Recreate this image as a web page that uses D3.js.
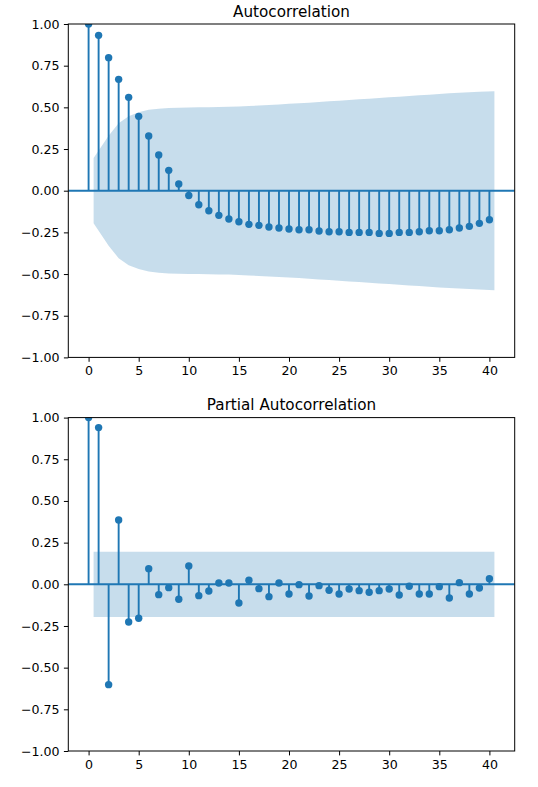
<!DOCTYPE html>
<html>
<head>
<meta charset="utf-8">
<script src="https://cdn.jsdelivr.net/npm/d3@7/dist/d3.min.js"></script>
<style>
  html, body { margin: 0; padding: 0; background: #fff; }
  svg { display: block; }
  text { font-family: "DejaVu Sans", sans-serif; fill: #000; }
</style>
</head>
<body>
<svg id="chart" width="538" height="787"></svg>
<script>
// ---- data ----
const lags = [0,1,2,3,4,5,6,7,8,9,10,11,12,13,14,15,16,17,18,19,20,
              21,22,23,24,25,26,27,28,29,30,31,32,33,34,35,36,37,38,39,40];

const acfValues = [1.000, 0.932, 0.798, 0.668, 0.560, 0.446, 0.328, 0.214, 0.122, 0.040,
                   -0.029, -0.084, -0.120, -0.148, -0.170, -0.186, -0.202, -0.208, -0.218, -0.224,
                   -0.230, -0.234, -0.234, -0.242, -0.246, -0.246, -0.250, -0.250, -0.250, -0.256,
                   -0.256, -0.250, -0.250, -0.246, -0.240, -0.240, -0.234, -0.224, -0.214, -0.196,
                   -0.174];

// half-width of the confidence band for lags 1..40
const acfBand = [0.196, 0.330, 0.405, 0.447, 0.470, 0.485, 0.492, 0.496, 0.498, 0.499,
                 0.500, 0.501, 0.502, 0.503, 0.505, 0.508, 0.511, 0.514, 0.517, 0.521,
                 0.524, 0.528, 0.532, 0.536, 0.540, 0.544, 0.548, 0.552, 0.556, 0.560,
                 0.564, 0.568, 0.572, 0.576, 0.580, 0.584, 0.587, 0.590, 0.593, 0.597];

const pacfValues = [1.000, 0.940, -0.602, 0.386, -0.226, -0.204, 0.094, -0.062, -0.020, -0.090,
                    0.110, -0.068, -0.040, 0.008, 0.008, -0.112, 0.024, -0.026, -0.074, 0.008,
                    -0.058, -0.002, -0.070, -0.008, -0.036, -0.058, -0.028, -0.038, -0.048, -0.038,
                    -0.028, -0.064, -0.012, -0.058, -0.058, -0.014, -0.082, 0.010, -0.058, -0.022,
                    0.034];

const pacfBand = [0.196, 0.196, 0.196, 0.196, 0.196, 0.196, 0.196, 0.196, 0.196, 0.196,
                  0.196, 0.196, 0.196, 0.196, 0.196, 0.196, 0.196, 0.196, 0.196, 0.196,
                  0.196, 0.196, 0.196, 0.196, 0.196, 0.196, 0.196, 0.196, 0.196, 0.196,
                  0.196, 0.196, 0.196, 0.196, 0.196, 0.196, 0.196, 0.196, 0.196, 0.196];

const xTicks = [0, 5, 10, 15, 20, 25, 30, 35, 40];
const yTicks = [-1.00, -0.75, -0.50, -0.25, 0.00, 0.25, 0.50, 0.75, 1.00];
const titles = ["Autocorrelation", "Partial Autocorrelation"];

// ---- layout ----
const blue = "#1f77b4";
const svg = d3.select("#chart");
const left = 68.3, right = 514.7;
const panels = [
  { top: 24.0, bottom: 357.4, values: acfValues, band: acfBand, title: titles[0] },
  { top: 417.6, bottom: 751.0, values: pacfValues, band: pacfBand, title: titles[1] }
];

const fmt = v => (v < 0 ? "\u2212" : "") + Math.abs(v).toFixed(2);

panels.forEach(p => {
  const x = d3.scaleLinear().domain([-2.025, 42.525]).range([left, right]);
  const y = d3.scaleLinear().domain([-1, 1]).range([p.bottom, p.top]);
  const g = svg.append("g");

  const clipId = "clip" + Math.round(p.top);
  g.append("clipPath").attr("id", clipId)
    .append("rect").attr("x", left).attr("y", p.top)
    .attr("width", right - left).attr("height", p.bottom - p.top);
  const plot = g.append("g").attr("clip-path", `url(#${clipId})`);

  // stems
  plot.selectAll("line.stem").data(lags).join("line")
    .attr("class", "stem")
    .attr("x1", d => x(d)).attr("x2", d => x(d))
    .attr("y1", y(0)).attr("y2", d => y(p.values[d]))
    .attr("stroke", blue).attr("stroke-width", 1.9);

  // zero line
  plot.append("line")
    .attr("x1", left).attr("x2", right)
    .attr("y1", y(0)).attr("y2", y(0))
    .attr("stroke", blue).attr("stroke-width", 1.9);

  // markers
  plot.selectAll("circle").data(lags).join("circle")
    .attr("cx", d => x(d)).attr("cy", d => y(p.values[d]))
    .attr("r", 3.7).attr("fill", blue);

  // confidence band (lags 1..40, ends pushed out by half a lag)
  const bandLags = lags.slice(1);
  const bx = (d, i) => {
    let v = d;
    if (i === 0) v -= 0.5;
    if (i === bandLags.length - 1) v += 0.5;
    return x(v);
  };
  const area = d3.area()
    .x((d, i) => bx(d, i))
    .y0((d, i) => y(-p.band[i]))
    .y1((d, i) => y(p.band[i]));
  plot.append("path").datum(bandLags)
    .attr("d", area)
    .attr("fill", blue).attr("fill-opacity", 0.25);

  // axes
  const yAxis = d3.axisLeft(y).tickValues(yTicks).tickFormat(fmt).tickSize(4.4).tickPadding(4.4);
  const xAxis = d3.axisBottom(x).tickValues(xTicks).tickFormat(d3.format("d")).tickSize(4.4).tickPadding(4.4);
  const ya = g.append("g").attr("transform", `translate(${left},0)`).call(yAxis);
  const xa = g.append("g").attr("transform", `translate(0,${p.bottom})`).call(xAxis);
  [ya, xa].forEach(a => {
    a.select(".domain").remove();
    a.selectAll(".tick line").attr("stroke", "#000").attr("stroke-width", 1);
    a.selectAll(".tick text").attr("font-family", "DejaVu Sans, sans-serif")
      .attr("font-size", "12.6px").attr("fill", "#000");
  });

  // frame
  g.append("rect").attr("x", left).attr("y", p.top)
    .attr("width", right - left).attr("height", p.bottom - p.top)
    .attr("fill", "none").attr("stroke", "#000").attr("stroke-width", 1);

  // title
  g.append("text")
    .attr("x", (left + right) / 2).attr("y", p.top - 7.2)
    .attr("text-anchor", "middle")
    .attr("font-size", "15.2px")
    .text(p.title);
});
</script>
</body>
</html>
